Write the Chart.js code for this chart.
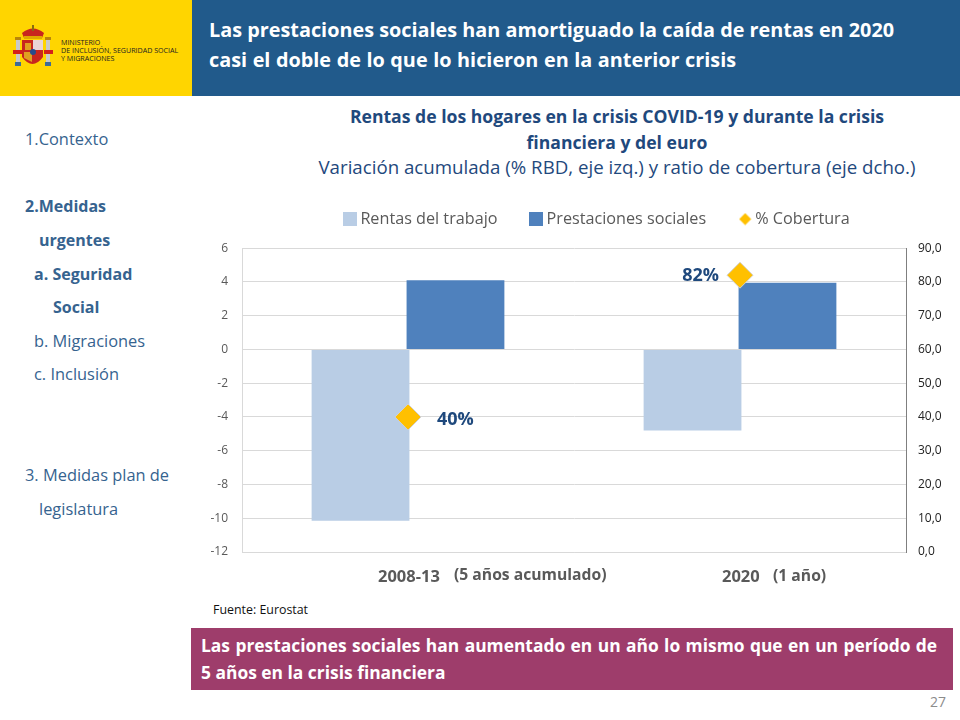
<!DOCTYPE html>
<html lang="es"><head><meta charset="utf-8">
<script src="https://cdn.jsdelivr.net/npm/chart.js@4"></script>
<style>
html,body{margin:0;padding:0;background:#fff;width:960px;height:720px;overflow:hidden;font-family:"Open Sans",sans-serif}
.abs{position:absolute;white-space:nowrap}
#logo{left:0;top:0;width:192px;height:96px;background:#FFD500}
#head{left:192px;top:0;width:768px;height:96px;background:#215A8B}
#head div{position:absolute;left:17px;color:#fff;font:700 19.83px "Open Sans",sans-serif;white-space:nowrap}
.side{position:absolute;color:#36638F;font-size:16.4px;line-height:20px;white-space:nowrap}
.b{font-weight:700;font-size:16px}
#t1,#t2,#t3{color:#1F497D;text-align:center;left:190px;width:854px}
#band{left:191px;top:628px;width:762px;height:62px;background:#9E3D6B}
#band div{position:absolute;left:10px;color:#fff;font:700 17.4px "Open Sans",sans-serif;white-space:nowrap}
#wrap{left:190px;top:200px;width:770px;height:400px;overflow:hidden}
canvas{display:block}
</style></head><body>
<div class="abs" id="logo">
<svg width="192" height="96" style="position:absolute;left:0;top:0">
<path d="M22 33 q11 -9 22 0 l-2 5 h-18z" fill="#C8261E"/><rect x="24" y="36" width="18" height="3" fill="#E0A800"/><rect x="32" y="25" width="2" height="6" fill="#8a6a10"/>
<rect x="16" y="38" width="4" height="27" fill="#C9C9C9"/><rect x="46" y="38" width="4" height="27" fill="#C9C9C9"/>
<rect x="15" y="37" width="6" height="3" fill="#B8860B"/><rect x="45" y="37" width="6" height="3" fill="#B8860B"/>
<rect x="15" y="62" width="6" height="4" fill="#3D6C96"/><rect x="45" y="62" width="6" height="4" fill="#3D6C96"/>
<path d="M13 50 h9 v4 h-9z M44 50 h9 v4 h-9z" fill="#D4201C"/>
<path d="M22 40 h21 v17 q-10.500 14 -21 0z" fill="#C8261E"/><rect x="33" y="40" width="10" height="10" fill="#E9D5D5"/><path d="M24 52 h8 v10 l-8 -4z" fill="#E0A020"/><rect x="25" y="43" width="6" height="7" fill="#E0A020"/><circle cx="33" cy="52" r="3" fill="#274B8C"/>
</svg>
<div class="abs" style="left:61px;top:38px;font:7.1px/8px 'Open Sans',sans-serif;color:#222">MINISTERIO<br>DE INCLUSIÓN, SEGURIDAD SOCIAL<br>Y MIGRACIONES</div>
</div>
<div class="abs" id="head"><div style="top:16px">Las prestaciones sociales han amortiguado la caída de rentas en 2020</div><div style="top:46px;word-spacing:.4px">casi el doble de lo que lo hicieron en la anterior crisis</div></div>
<div class="side" style="left:25px;top:129px">1.Contexto</div>
<div class="side b" style="left:25px;top:196px">2.Medidas</div>
<div class="side b" style="left:39px;top:230px">urgentes</div>
<div class="side b" style="left:34px;top:264px">a. Seguridad</div>
<div class="side b" style="left:53px;top:297px">Social</div>
<div class="side" style="left:34px;top:331px">b. Migraciones</div>
<div class="side" style="left:34px;top:364px">c.  Inclusión</div>
<div class="side" style="left:25px;top:465px">3. Medidas plan de</div>
<div class="side" style="left:39px;top:499px">legislatura</div>
<div class="abs" id="t1" style="top:104px;font-size:17.6px;font-weight:700">Rentas de los hogares en la crisis COVID-19 y durante la crisis</div>
<div class="abs" id="t2" style="top:130px;font-size:17.6px;font-weight:700">financiera y del euro</div>
<div class="abs" id="t3" style="top:154px;font-size:18.7px">Variación acumulada (% RBD, eje izq.) y ratio de cobertura (eje dcho.)</div>
<div class="abs" id="wrap"><canvas id="c" style="width:818px;height:400px"></canvas></div>
<div class="abs" style="left:213px;top:601px;font-size:12.4px;color:#111">Fuente: Eurostat</div>
<div class="abs" id="band"><div style="top:5px;word-spacing:.9px">Las prestaciones sociales han aumentado en un año lo mismo que en un período de</div><div style="top:32px">5 años en la crisis financiera</div></div>
<div class="abs" style="left:930px;top:692px;font-size:14px;color:#8c8c8c">27</div>
<script>
const categories = ["2008-13", "2020"];
const categoryNotes = ["(5 años acumulado)", "(1 año)"];
const rentasTrabajo = [-10.15, -4.8];
const prestaciones = [4.1, 3.95];
const cobertura = [40, 82];
const coberturaLabels = ["40%", "82%"];
const leftTicks = [6,4,2,0,-2,-4,-6,-8,-10,-12];
const rightTicks = [90,80,70,60,50,40,30,20,10,0];

function swatch(color, isDiamond) {
  const cv = document.createElement('canvas');
  const n = isDiamond ? 13 : 14;
  cv.width = cv.height = n;
  const ctx = cv.getContext('2d');
  ctx.fillStyle = color;
  if (isDiamond) { ctx.beginPath(); ctx.moveTo(6.5,0.5); ctx.lineTo(12.5,6.5); ctx.lineTo(6.5,12.5); ctx.lineTo(0.5,6.5); ctx.closePath(); ctx.fill(); }
  else ctx.fillRect(0,0,n,n);
  return cv;
}

const annotate = {
  id: 'annotate',
  beforeInit(chart) {
    const lg = chart.legend, f = lg.fit;
    lg.fit = function () { f.call(this); this.height += 11; };
  },
  afterDraw(chart) {
    const c = chart.ctx, x = chart.scales.x, yr = chart.scales.yr;
    c.save();
    c.textBaseline = 'middle';
    c.font = '700 18px "Open Sans"'; c.fillStyle = '#1F497D';
    c.textAlign = 'left';  c.fillText(coberturaLabels[0], x.getPixelForValue(0) + 29, yr.getPixelForValue(cobertura[0]) + 3);
    c.textAlign = 'right'; c.fillText(coberturaLabels[1], x.getPixelForValue(1) - 21, yr.getPixelForValue(cobertura[1]) + 1);
    const base = chart.chartArea.bottom + 25;
    c.fillStyle = '#595959'; c.textAlign = 'left';
    c.font = '700 16.5px "Open Sans"';
    c.fillText(categories[0], x.getPixelForValue(0) - 30, base);
    c.fillText(categories[1], x.getPixelForValue(1) - 18, base);
    c.font = '700 15.7px "Open Sans"';
    c.fillText(categoryNotes[0], x.getPixelForValue(0) + 46, base - 1);
    c.fillText(categoryNotes[1], x.getPixelForValue(1) + 33, base);
    c.restore();
  }
};
const barOpts = { categoryPercentage: 0.572, barPercentage: 1.03, borderWidth: 0, yAxisID: 'y', order: 2 };
new Chart(document.getElementById('c'), {
  data: {
    labels: categories,
    datasets: [
      { type:'bar', label:'Rentas del trabajo', data:rentasTrabajo, backgroundColor:'#B9CDE5', ...barOpts },
      { type:'bar', label:'Prestaciones sociales', data:prestaciones, backgroundColor:'#4F81BD', ...barOpts },
      { type:'line', label:'% Cobertura', data:cobertura, yAxisID:'yr', showLine:false, order:1,
        pointStyle:'rectRot', pointRadius:13, pointHoverRadius:13, pointBackgroundColor:'#FFC000', pointBorderColor:'#D0D0D0', pointBorderWidth:1 }
    ]
  },
  options: {
    responsive:false, animation:false,
    layout:{ padding:{ top:-26, bottom:40, left:0, right:0 } },
    plugins:{
      tooltip:{enabled:false},
      legend:{ position:'top', labels:{ font:{family:'"Open Sans"',size:16.2}, color:'#595959', usePointStyle:true, pointStyleWidth:4, boxHeight:14, padding:37,
        generateLabels:ch => ch.data.datasets.map((d,i)=>({ text:d.label, pointStyle:swatch(i===2?'#FFC000':d.backgroundColor, i===2), datasetIndex:i, fontColor:'#595959', lineWidth:0 })) } }
    },
    scales:{
      x:{ type:'category', grid:{display:false}, border:{color:'#D9D9D9'}, ticks:{display:false} },
      y:{ position:'left', min:-12, max:6, afterFit:s=>{s.width=52}, grid:{color:'#D9D9D9',drawTicks:false}, border:{color:'#D9D9D9'},
        afterBuildTicks:s=>{s.ticks=leftTicks.map(v=>({value:v}))},
        ticks:{ color:'#595959', font:{family:'"Open Sans"',size:12}, padding:14 } },
      yr:{ position:'right', min:0, max:90, afterFit:s=>{s.width=102}, grid:{display:false,drawOnChartArea:false,tickColor:'#7F7F7F',tickLength:6}, border:{color:'#7F7F7F'},
        afterBuildTicks:s=>{s.ticks=rightTicks.map(v=>({value:v}))},
        ticks:{ color:'#222', font:{family:'"Open Sans"',size:12}, padding:6, callback:v=>v.toFixed(1).replace('.',',') } }
    }
  },
  plugins:[annotate]
});
</script>
</body></html>
